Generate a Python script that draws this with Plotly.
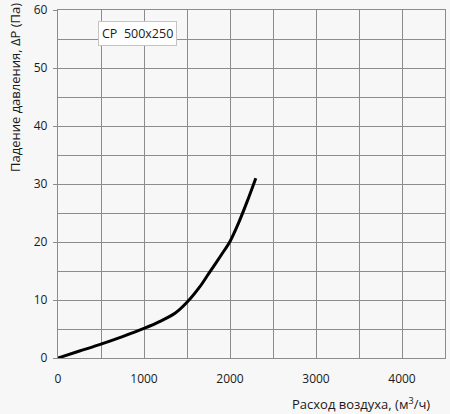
import plotly.graph_objects as go

flow = [0, 250, 500, 750, 1000, 1200, 1360, 1500, 1650, 1750, 1900, 2000, 2100, 2200, 2300]
dp = [0, 1.2, 2.4, 3.7, 5.1, 6.4, 7.7, 9.6, 12.3, 14.5, 17.8, 20.1, 23.3, 27.0, 31.0]
x_ticks = [0, 1000, 2000, 3000, 4000]
y_ticks = [0, 10, 20, 30, 40, 50, 60]
label = "CP&nbsp;&nbsp;500x250"
x_title = "Расход воздуха, (м<sup>3</sup>/ч)"
y_title = "Падение давления, ΔP (Па)"

fig = go.Figure()
fig.add_trace(go.Scatter(x=flow, y=dp, mode="lines", line=dict(color="black", width=3, shape="spline", smoothing=0.8),
                         showlegend=False, hoverinfo="skip"))

grid = "#8c8c8c"
fig.update_layout(
    width=450, height=414,
    margin=dict(l=58, r=5, t=10, b=56),
    paper_bgcolor="#f7f7f7", plot_bgcolor="#f7f7f7",
    font=dict(family="Open Sans", size=12, color="#1a1a1a"),
    xaxis=dict(range=[0, 4500], tickvals=x_ticks, showgrid=True, gridcolor=grid, gridwidth=1.3,
               minor=dict(dtick=500, showgrid=True, gridcolor=grid, gridwidth=1.3),
               showline=True, linecolor=grid, linewidth=1.3, mirror=True, zeroline=False,
               ticks="", ticklabelstandoff=9, fixedrange=True, automargin=False),
    yaxis=dict(range=[0, 60], tickvals=y_ticks, showgrid=True, gridcolor=grid, gridwidth=1.3,
               minor=dict(dtick=5, showgrid=True, gridcolor=grid, gridwidth=1.3),
               showline=True, linecolor=grid, linewidth=1.3, mirror=True, zeroline=False,
               ticks="outside", ticklen=4, tickcolor=grid, ticklabelstandoff=3, fixedrange=True,
               automargin=False),
)
fig.add_annotation(xref="paper", yref="paper", x=(432 - 58) / 387, y=(358 - 403) / 348,
                   xanchor="right", yanchor="middle",
                   text=x_title, showarrow=False, font=dict(size=13))
fig.add_annotation(xref="paper", yref="paper", x=-(58 - 15) / 387, y=(358 - 88) / 348,
                   xanchor="center", yanchor="middle", textangle=-90,
                   text=y_title, showarrow=False, font=dict(size=13))
fig.add_annotation(x=465, y=55.9, xref="x", yref="y", xanchor="left", yanchor="middle",
                   text=label, showarrow=False, bgcolor="white", bordercolor="#c4c4c4", borderwidth=1,
                   borderpad=3, font=dict(size=12.5, color="#1a1a1a"))
fig.write_html("out.html", config={"displayModeBar": False},
               post_script="document.body.style.margin='0';document.body.style.overflow='hidden';")
